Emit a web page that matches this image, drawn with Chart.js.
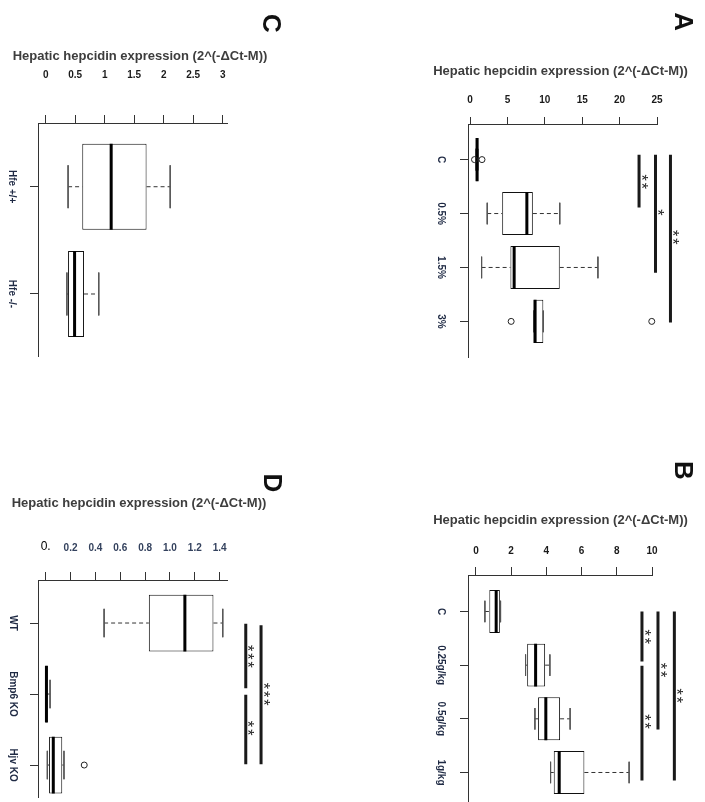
<!DOCTYPE html>
<html><head><meta charset="utf-8">
<script src="https://cdn.jsdelivr.net/npm/chart.js@4.4.0/dist/chart.umd.min.js"></script>
<style>
html,body{margin:0;padding:0;background:#fff;overflow:hidden;width:705px;height:802px;position:relative;}
canvas{position:absolute;}
</style></head><body>
<canvas id="cA" width="305" height="400" style="left:400px;top:0px"></canvas>
<canvas id="cB" width="305" height="402" style="left:400px;top:400px"></canvas>
<canvas id="cC" width="400" height="400" style="left:0px;top:0px"></canvas>
<canvas id="cD" width="400" height="402" style="left:0px;top:400px"></canvas>
<script>
const axisTitle = 'Hepatic hepcidin expression (2^(-ΔCt-M))';

// ---- Panel A ----
const catsA = ['C', '0.5%', '1.5%', '3%'];
const loA  = [0.75, 2.3, 1.55, 8.5];
const q1A  = [0.75, 4.3, 5.4, 8.5];
const medA = [0.95, 7.6, 5.9, 8.7];
const q3A  = [1.05, 8.4, 12.0, 9.8];
const hiA  = [1.05, 12.0, 17.1, 9.8];
const outA = [[0.6, 1.6], [], [], [5.5, 24.3]];
const ticksA = [0, 5, 10, 15, 20, 25];
const tickLabelsA = ['0', '5', '10', '15', '20', '25'];
const sigValA  = [22.6, 24.8, 26.8];
const sigFromA = [0.91, 0.91, 0.91];
const sigToA   = [1.89, 3.1, 4.02];
const sigTextA = ['**', '*', '**'];
const sigAtA   = [1.41, 1.98, 2.44];

// ---- Panel B ----
const catsB = ['C', '0.25g/kg', '0.5g/kg', '1g/kg'];
const loB  = [0.51, 2.82, 3.35, 4.24];
const q1B  = [0.76, 2.91, 3.53, 4.42];
const medB = [1.15, 3.39, 3.97, 4.73];
const q3B  = [1.36, 3.93, 4.78, 6.16];
const hiB  = [1.40, 4.20, 5.35, 8.70];
const outB = [[], [], [], []];
const ticksB = [0, 2, 4, 6, 8, 10];
const tickLabelsB = ['0', '2', '4', '6', '8', '10'];
const sigValB  = [9.43, 9.43, 10.34, 11.27];
const sigFromB = [1.0, 2.01, 1.0, 1.0];
const sigToB   = [1.93, 4.15, 3.2, 4.15];
const sigTextB = ['**', '**', '**', '**'];
const sigAtB   = [1.47, 3.05, 2.09, 2.57];

// ---- Panel C ----
const catsC = ['Hfe +/+', 'Hfe -/-'];
const loC  = [0.38, 0.36];
const q1C  = [0.62, 0.38];
const medC = [1.11, 0.49];
const q3C  = [1.71, 0.65];
const hiC  = [2.11, 0.90];
const outC = [[], []];
const ticksC = [0, 0.5, 1, 1.5, 2, 2.5, 3];
const tickLabelsC = ['0', '0.5', '1', '1.5', '2', '2.5', '3'];

// ---- Panel D ----
const catsD = ['WT', 'Bmp6 KO', 'Hjv KO'];
const loD  = [0.47, 0.002, 0.013];
const q1D  = [0.83, 0.003, 0.027];
const medD = [1.12, 0.006, 0.061];
const q3D  = [1.35, 0.012, 0.133];
const hiD  = [1.425, 0.035, 0.147];
const outD = [[], [], [0.31]];
const ticksD = [0, 0.2, 0.4, 0.6, 0.8, 1.0, 1.2, 1.4];
const tickLabelsD = ['0.', '0.2', '0.4', '0.6', '0.8', '1.0', '1.2', '1.4'];
const sigValD  = [1.61, 1.61, 1.733];
const sigFromD = [1.01, 2.01, 1.03];
const sigToD   = [1.92, 2.99, 2.99];
const sigTextD = ['***', '**', '***'];
const sigAtD   = [1.47, 2.48, 2.0];

const FONT = '"Liberation Sans", Arial, sans-serif';
const measurer = document.createElement('canvas').getContext('2d');
function widest(labels, font) {
  measurer.font = font;
  return Math.max(...labels.map(l => measurer.measureText(l).width));
}
function rotText(ctx, txt, x, y, font, color) {
  ctx.save();
  ctx.translate(x, y);
  ctx.rotate(Math.PI / 2);
  ctx.font = font;
  ctx.fillStyle = color;
  ctx.textAlign = 'center';
  ctx.textBaseline = 'middle';
  ctx.fillText(txt, 0, 0);
  ctx.restore();
}
function rotStars(ctx, txt, x, y, step, font, color) {
  const chars = txt.split('');
  const n = chars.length;
  chars.forEach((ch, j) => {
    rotText(ctx, ch, x, y + (j - (n - 1) / 2) * step, font, color);
  });
}

function panel(p) {
  const HALF = 0.4, CAP = 0.2;
  const pos = p.cats.map((c, i) => i + 1);
  const gap = () => ({x: null, y: null});
  const boxData = pos.map((y, i) => ({x: [p.q1[i], p.q3[i]], y: y}));
  const whisk = [], caps = [], meds = [], outs = [], sig = [];
  pos.forEach((y, i) => {
    whisk.push({x: p.lo[i], y: y}, {x: p.q1[i], y: y}, gap(), {x: p.q3[i], y: y}, {x: p.hi[i], y: y}, gap());
    caps.push({x: p.lo[i], y: y - CAP}, {x: p.lo[i], y: y + CAP}, gap(), {x: p.hi[i], y: y - CAP}, {x: p.hi[i], y: y + CAP}, gap());
    meds.push({x: p.med[i], y: y - HALF}, {x: p.med[i], y: y + HALF}, gap());
    (p.out[i] || []).forEach(v => outs.push({x: v, y: y}));
  });
  (p.sigVal || []).forEach((v, k) => sig.push({x: v, y: p.sigFrom[k]}, {x: v, y: p.sigTo[k]}, gap()));

  const catFont = 'bold 10px ' + FONT;
  const tlY = 8;
  const padY = p.L - tlY - p.catX - widest(p.cats, catFont) / 2;
  const padX = p.T - p.tlX - p.labelY - 6;

  const lineDs = (data, opts) => Object.assign({
    type: 'scatter', data: data, showLine: true, spanGaps: false, pointRadius: 0,
    pointHoverRadius: 0, borderColor: '#333', borderWidth: 1, fill: false
  }, opts);

  const datasets = [
    {type: 'bar', indexAxis: 'y', data: boxData, backgroundColor: '#ffffff',
     borderColor: '#111', borderWidth: 1, borderSkipped: false,
     barPercentage: 1.0, categoryPercentage: 0.8, order: 10},
    lineDs(whisk, {borderDash: [4, 3], borderColor: '#333', order: 5}),
    lineDs(caps, {borderColor: '#555', order: 4}),
    lineDs(meds, {borderColor: '#000', borderWidth: 3, order: 1}),
    {type: 'scatter', data: outs, pointRadius: 3, pointBorderWidth: 1,
     pointBackgroundColor: 'rgba(0,0,0,0)', pointBorderColor: '#222', clip: false, order: 0},
    lineDs(sig, {borderColor: '#1a1a1a', borderWidth: 3, clip: false, order: 0})
  ];

  const textPlugin = {
    id: 'txt' + p.id,
    afterDraw(chart) {
      const ctx = chart.ctx;
      const xs = chart.scales.x, ys = chart.scales.y;
      ctx.save();
      ctx.font = 'bold 13px ' + FONT;
      ctx.fillStyle = '#3d3d3d';
      ctx.textAlign = 'center';
      ctx.textBaseline = 'middle';
      ctx.fillText(axisTitle, p.titleX, p.titleY);
      rotText(ctx, p.letter, p.letterX, p.letterY, 'bold 26px ' + FONT, '#111');
      (p.sigText || []).forEach((t, k) => {
        rotStars(ctx, t, xs.getPixelForValue(p.sigVal[k]) + 1,
                 ys.getPixelForValue(p.sigAt[k]), 8.3, '16px ' + FONT, '#222');
      });
      ctx.restore();
    }
  };

  new Chart(document.getElementById(p.id), {
    type: 'bar',
    data: {datasets: datasets},
    plugins: [textPlugin],
    options: {
      responsive: false, animation: false, devicePixelRatio: 1,
      layout: {padding: {left: 0, top: 0, right: p.W - p.R, bottom: p.H - p.B}},
      plugins: {legend: {display: false}, tooltip: {enabled: false}},
      events: [],
      scales: {
        x: {
          type: 'linear', position: 'top', min: p.xMin, max: p.xMax, offset: false,
          afterBuildTicks: s => { s.ticks = p.ticks.map(v => ({value: v})); },
          afterFit: s => { s.height = p.T; s.paddingLeft = 0; s.paddingRight = 0; },
          grid: {display: true, offset: false, drawOnChartArea: false, drawTicks: true, tickLength: p.tlX, color: '#333', lineWidth: 1},
          border: {display: true, color: '#333', width: 1},
          ticks: {
            autoSkip: false, minRotation: 0, maxRotation: 0, padding: padX,
            callback: (v, i) => p.tickLabels[i],
            font: c => (p.zeroSpecial && c.tick && c.tick.value === 0)
              ? {family: FONT, size: 12, weight: 'normal'}
              : {family: FONT, size: 10, weight: 'bold'},
            color: c => (p.zeroSpecial && c.tick && c.tick.value === 0) ? '#000' : p.tickColor
          }
        },
        y: {
          type: 'linear', position: 'left', reverse: true, min: p.yMin, max: p.yMax,
          offset: false,
          afterBuildTicks: s => { s.ticks = pos.map(v => ({value: v})); },
          afterFit: s => { s.width = p.L; s.paddingTop = 0; s.paddingBottom = 0; },
          grid: {display: true, offset: false, drawOnChartArea: false, drawTicks: true, tickLength: tlY, color: '#333', lineWidth: 1},
          border: {display: true, color: '#333', width: 1},
          ticks: {
            autoSkip: false, minRotation: -90, maxRotation: -90, crossAlign: 'center',
            padding: padY, callback: (v, i) => p.cats[i],
            font: {family: FONT, size: 10, weight: 'bold'}, color: '#1f2a44'
          }
        }
      }
    }
  });
}

panel({id: 'cA', W: 305, H: 400, L: 68, R: 257, T: 124, B: 357,
  xMin: -0.27, xMax: 25, yMin: 0.34, yMax: 4.66, tlX: 7, labelY: 100, catX: 41,
  titleX: 160.5, titleY: 71, letter: 'A', letterX: 282, letterY: 21.7, tickColor: '#1a1a1a',
  cats: catsA, lo: loA, q1: q1A, med: medA, q3: q3A, hi: hiA, out: outA,
  ticks: ticksA, tickLabels: tickLabelsA,
  sigVal: sigValA, sigFrom: sigFromA, sigTo: sigToA, sigText: sigTextA, sigAt: sigAtA});

panel({id: 'cB', W: 305, H: 402, L: 68, R: 252, T: 175, B: 402,
  xMin: -0.45, xMax: 10, yMin: 0.32, yMax: 4.55, tlX: 8, labelY: 151.7, catX: 40.7,
  titleX: 160.5, titleY: 120, letter: 'B', letterX: 282.5, letterY: 70.5, tickColor: '#1a1a1a',
  cats: catsB, lo: loB, q1: q1B, med: medB, q3: q3B, hi: hiB, out: outB,
  ticks: ticksB, tickLabels: tickLabelsB,
  sigVal: sigValB, sigFrom: sigFromB, sigTo: sigToB, sigText: sigTextB, sigAt: sigAtB});

panel({id: 'cC', W: 400, H: 400, L: 38, R: 227, T: 123, B: 356,
  xMin: -0.13, xMax: 3.073, yMin: 0.406, yMax: 2.578, tlX: 8, labelY: 75, catX: 11.7,
  titleX: 140, titleY: 56.7, letter: 'C', letterX: 270, letterY: 23.3, tickColor: '#1a1a1a',
  cats: catsC, lo: loC, q1: q1C, med: medC, q3: q3C, hi: hiC, out: outC,
  ticks: ticksC, tickLabels: tickLabelsC});

panel({id: 'cD', W: 400, H: 402, L: 38, R: 227, T: 180, B: 402,
  xMin: -0.062, xMax: 1.459, yMin: 0.394, yMax: 3.45, tlX: 8, labelY: 148, catX: 12.7,
  titleX: 139, titleY: 103.3, letter: 'D', letterX: 271.5, letterY: 83, tickColor: '#34425e',
  zeroSpecial: true,
  cats: catsD, lo: loD, q1: q1D, med: medD, q3: q3D, hi: hiD, out: outD,
  ticks: ticksD, tickLabels: tickLabelsD,
  sigVal: sigValD, sigFrom: sigFromD, sigTo: sigToD, sigText: sigTextD, sigAt: sigAtD});
</script>
</body></html>
